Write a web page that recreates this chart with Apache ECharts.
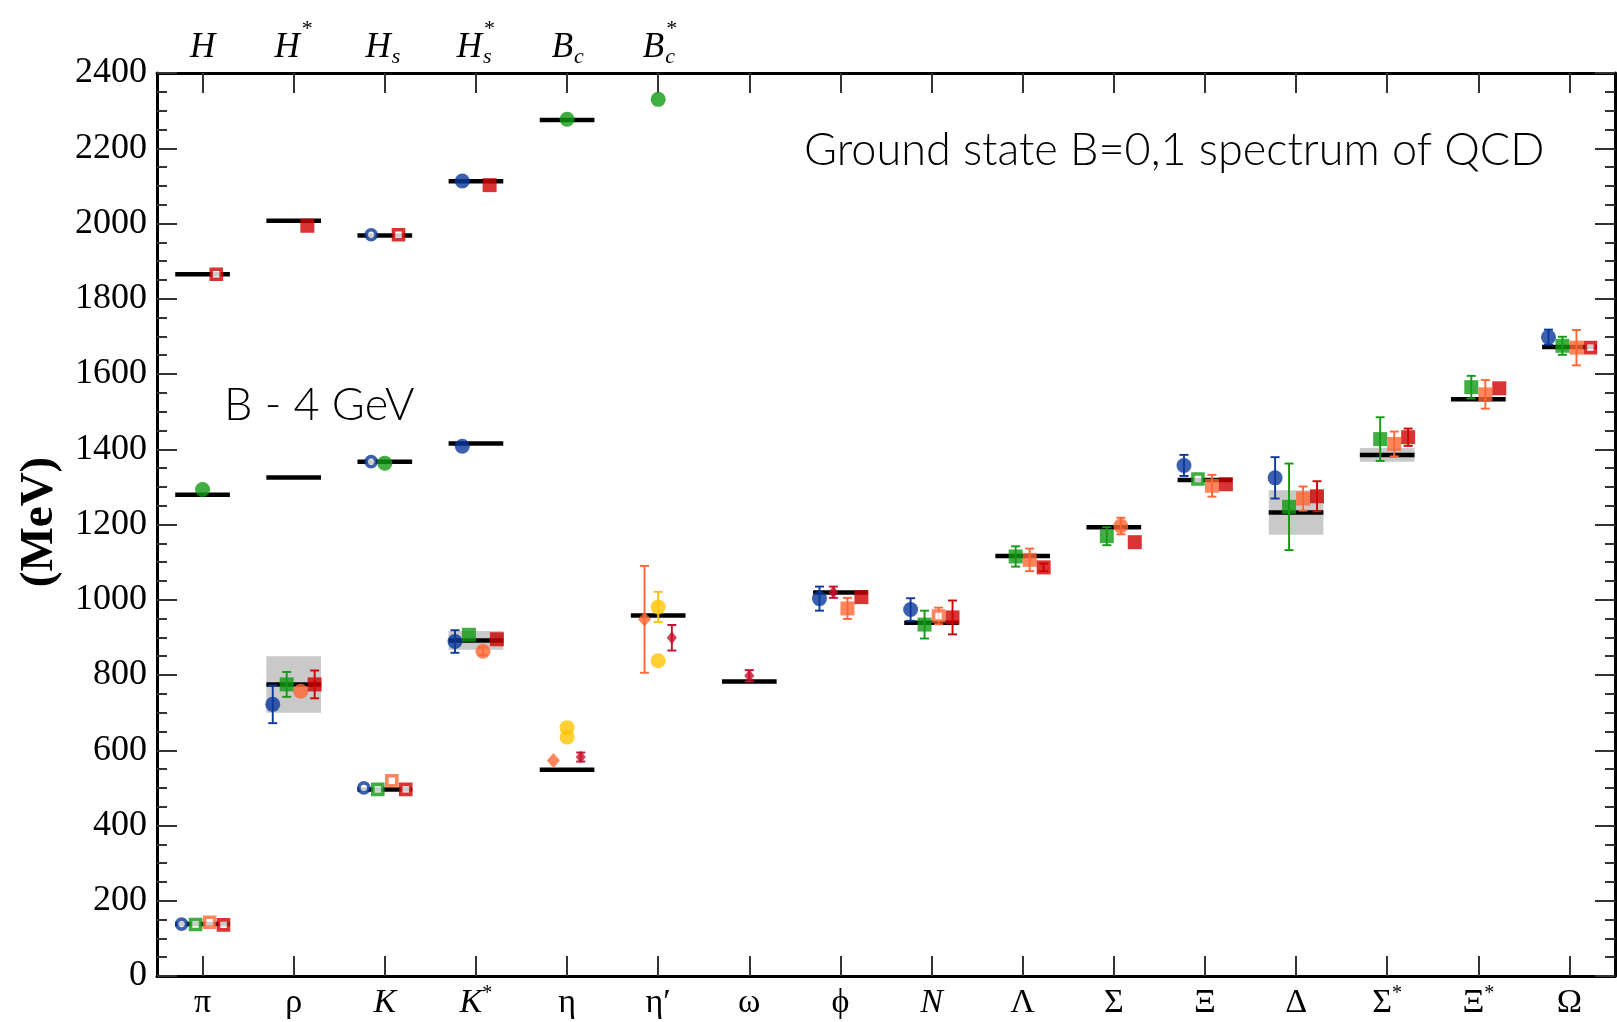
<!DOCTYPE html>
<html>
<head>
<meta charset="utf-8">
<script src="https://cdn.jsdelivr.net/npm/echarts@6/dist/echarts.min.js"></script>
<style>
  html, body { margin: 0; padding: 0; background: #fff; }
  #chart { width: 1617px; height: 1022px; }
</style>
</head>
<body>
<div id="chart"></div>
<script>
// ---- categories -------------------------------------------------------
const hadrons = ['π', 'ρ', 'K', 'K*', 'η', 'η′', 'ω', 'ϕ', 'N', 'Λ', 'Σ', 'Ξ', 'Δ', 'Σ*', 'Ξ*', 'Ω'];
// heavy-light labels on the top axis: [letter, superscript, subscript]
const heavyLabels = [['H', '', ''], ['H', '*', ''], ['H', '', 's'], ['H', '*', 's'], ['B', '', 'c'], ['B', '*', 'c']];
const massTicks = [0, 200, 400, 600, 800, 1000, 1200, 1400, 1600, 1800, 2000, 2200, 2400];

// ---- experimental masses (MeV) -----------------------------------------
const expMass  = [138, 775, 496, 892, 548, 958, 783, 1019, 939, 1116, 1193, 1318, 1232, 1385, 1533, 1672];
const expWidth = [null, 150, null, 50, null, null, null, null, null, null, null, null, 118, 36, 10, null];
const heavyMass = [1865, 2007, 1968, 2112, 2275, null];   // H, H*, Hs, Hs*, Bc - 4 GeV, Bc* - 4 GeV
const bMass     = [1279, 1325, 1367, 1415];               // B, B*, Bs, Bs*  (minus 4 GeV)

// ---- lattice results (MeV) ----------------------------------------------
const blueMass   = [138, 722, 500, 889, null, null, null, 1003, 974, null, null, 1357, 1324, null, null, 1698];
const blueErr    = [0, 50, 0, 30, null, null, null, 32, 30, null, null, 28, 55, null, null, 20];
const greenMass  = [137, 775, 496, 907, null, null, null, null, 934, 1115, 1169, 1321, 1247, 1427, 1565, 1675];
const greenErr   = [0, 33, 0, 0, null, null, null, null, 37, 27, 24, 0, 115, 58, 30, 24];
const orangeMass = [143, 757, 519, 863, null, null, null, 977, 957, 1106, 1196, 1303, 1269, 1414, 1546, 1670];
const orangeErr  = [0, 0, 0, 10, null, null, null, 28, 22, 30, 22, 29, 32, 33, 38, 47];
const redMass    = [136, 775, 496, 895, null, null, null, 1007, 953, 1086, 1153, 1307, 1275, 1432, 1562, 1670];
const redErr     = [0, 37, 0, 0, null, null, null, 0, 45, 10, 0, 0, 40, 23, 0, 0];

const yellowMassA  = [null, null, null, null, 660, 981, null, null, null, null, null, null, null, null, null, null];
const yellowErrA   = [null, null, null, null, 0, 40, null, null, null, null, null, null, null, null, null, null];
const yellowMassB  = [null, null, null, null, 635, 838, null, null, null, null, null, null, null, null, null, null];
const diamondMass  = [null, null, null, null, 573, 948, null, null, null, null, null, null, null, null, null, null];
const diamondErr   = [null, null, null, null, 0, 142, null, null, null, null, null, null, null, null, null, null];
const crimsonMass  = [null, null, null, null, 582, 899, 798, 1020, null, null, null, null, null, null, null, null];
const crimsonErr   = [null, null, null, null, 12, 34, 15, 15, null, null, null, null, null, null, null, null];

const heavyBlue  = [null, null, 1970, 2113, null, null];
const heavyGreen = [null, null, null, null, 2277, 2330];
const heavyRed   = [1865, 1994, 1970, 2102, null, null];
const bBlue  = [null, null, 1367, 1408];
const bGreen = [1293, null, 1363, null];

// ---- styling ------------------------------------------------------------
const C = { blue: '#0a389c', green: '#129a14', orange: '#ff6633', red: '#d00000',
            yellow: '#ffc400', crimson: '#c8102e', box: '#c9c9c9' };
const SERIF = '"Liberation Serif", "DejaVu Serif", serif';
const SANS = '300 45px Lato, "Open Sans", sans-serif';
const hollowIdx = { blue: [0, 2], green: [0, 2, 11], orange: [0, 2, 8], red: [0, 2, 15],
                    heavyBlue: [2], heavyRed: [0, 2], bBlue: [2] };
const orangeRoundIdx = [1, 3, 10];
const crimsonSlot = { 4: 0.15, 5: 0.15, 6: 0, 7: -0.077 };
const HALF = 0.3;   // half width of the experimental bars, in category units

function markerData(values, errs, slot, shapeFn, hollow, color, small) {
  const out = [];
  values.forEach((v, i) => {
    if (v == null) return;
    const isHollow = hollow && hollow.indexOf(i) >= 0;
    const shape = shapeFn(i);
    let size = shape === 'circle' ? 15 : shape === 'diamond' ? [13, 15] : 14;
    if (small) size = [10, 13];
    if (isHollow) size = 10;
    out.push({
      value: [i + slot(i), v, errs ? (errs[i] || 0) : 0],
      symbol: shape,
      symbolSize: size,
      itemStyle: isHollow ? { color: '#fff', borderColor: color, borderWidth: 3.6 }
                          : { color: color, borderWidth: 0 }
    });
  });
  return out;
}

function errorSeries(data, color) {
  return {
    type: 'custom', xAxisIndex: 2, yAxisIndex: 0, z: 3, clip: false,
    data: data.filter(d => d.value[2] > 0).map(d => d.value),
    renderItem: (params, api) => {
      const x = api.value(0), y = api.value(1), e = api.value(2);
      const t = api.coord([x, y + e]), b = api.coord([x, y - e]);
      const cap = 4.5;
      const st = { stroke: color, lineWidth: 1.9 };
      return { type: 'group', children: [
        { type: 'line', shape: { x1: t[0], y1: t[1], x2: b[0], y2: b[1] }, style: st },
        { type: 'line', shape: { x1: t[0] - cap, y1: t[1], x2: t[0] + cap, y2: t[1] }, style: st },
        { type: 'line', shape: { x1: b[0] - cap, y1: b[1], x2: b[0] + cap, y2: b[1] }, style: st }
      ] };
    }
  };
}

function pointSeries(name, values, errs, slot, shapeFn, hollow, color, small) {
  const data = markerData(values, errs, slot, shapeFn, hollow, color, small);
  return [
    errorSeries(data, color),
    { name: name, type: 'scatter', xAxisIndex: 2, yAxisIndex: 0, z: 4, data: data,
      emphasis: { disabled: true } }
  ];
}

function barSeries(values, z) {
  return {
    type: 'custom', xAxisIndex: 2, yAxisIndex: 0, z: z, clip: false,
    data: values.map((v, i) => [i, v]).filter(d => d[1] != null),
    renderItem: (params, api) => {
      const a = api.coord([api.value(0) - HALF, api.value(1)]);
      const b = api.coord([api.value(0) + HALF, api.value(1)]);
      return { type: 'line', shape: { x1: a[0], y1: a[1], x2: b[0], y2: b[1] },
               style: { stroke: '#000', lineWidth: 4.5 } };
    }
  };
}

const boxSeries = {
  type: 'custom', xAxisIndex: 2, yAxisIndex: 0, z: 1, clip: false,
  data: expMass.map((m, i) => [i, m, expWidth[i]]).filter(d => d[2] != null),
  renderItem: (params, api) => {
    const i = api.value(0), m = api.value(1), w = api.value(2);
    const a = api.coord([i - HALF, m + w / 2]);
    const b = api.coord([i + HALF, m - w / 2]);
    return { type: 'rect', shape: { x: a[0], y: a[1], width: b[0] - a[0], height: b[1] - a[1] },
             style: { fill: C.box } };
  }
};

// heavy-light labels drawn above the frame, on the category positions
const topLabelSeries = {
  type: 'custom', xAxisIndex: 2, yAxisIndex: 0, z: 5, clip: false, silent: true,
  data: heavyLabels.map((l, i) => [i, 2400]),
  renderItem: (params, api) => {
    const lab = heavyLabels[params.dataIndex];
    const p = api.coord([api.value(0), api.value(1)]);
    const yMid = p[1] - 25;
    const hasScript = lab[1] || lab[2];
    const kids = [{
      type: 'text', x: hasScript ? p[0] + 6 : p[0], y: yMid,
      style: { text: lab[0], font: 'italic 35px ' + SERIF, fill: '#000',
               align: hasScript ? 'right' : 'center', verticalAlign: 'middle' }
    }];
    if (lab[1]) kids.push({ type: 'text', x: p[0] + 8, y: yMid - 19,
      style: { text: lab[1], font: '22px ' + SERIF, fill: '#000', align: 'left', verticalAlign: 'middle' } });
    if (lab[2]) kids.push({ type: 'text', x: p[0] + 7, y: yMid + 9,
      style: { text: lab[2], font: 'italic 22px ' + SERIF, fill: '#000', align: 'left', verticalAlign: 'middle' } });
    return { type: 'group', children: kids };
  }
};

const light = (k) => ({ blue: -0.23, green: -0.077, orange: 0.077, red: 0.23 })[k];

const series = [
  boxSeries,
  barSeries(expMass, 2),
  barSeries(heavyMass, 2),
  barSeries(bMass, 2),
  ...pointSeries('blue', blueMass, blueErr, () => light('blue'), () => 'circle', hollowIdx.blue, C.blue),
  ...pointSeries('green', greenMass, greenErr, () => light('green'), () => 'rect', hollowIdx.green, C.green),
  ...pointSeries('orange', orangeMass, orangeErr, () => light('orange'),
                 i => orangeRoundIdx.indexOf(i) >= 0 ? 'circle' : 'rect', hollowIdx.orange, C.orange),
  ...pointSeries('red', redMass, redErr, () => light('red'), () => 'rect', hollowIdx.red, C.red),
  ...pointSeries('yellowA', yellowMassA, yellowErrA, () => 0, () => 'circle', null, C.yellow),
  ...pointSeries('yellowB', yellowMassB, null, () => 0, () => 'circle', null, C.yellow),
  ...pointSeries('diamond', diamondMass, diamondErr, () => -0.15, () => 'diamond', null, C.orange),
  ...pointSeries('crimson', crimsonMass, crimsonErr, i => crimsonSlot[i], () => 'diamond', null, C.crimson, true),
  ...pointSeries('heavyBlue', heavyBlue, null, () => -0.15, () => 'circle', hollowIdx.heavyBlue, C.blue),
  ...pointSeries('heavyGreen', heavyGreen, null, () => 0, () => 'circle', null, C.green),
  ...pointSeries('heavyRed', heavyRed, null, () => 0.15, () => 'rect', hollowIdx.heavyRed, C.red),
  ...pointSeries('bBlue', bBlue, null, () => -0.15, () => 'circle', hollowIdx.bBlue, C.blue),
  ...pointSeries('bGreen', bGreen, null, () => 0, () => 'circle', null, C.green),
  topLabelSeries
];

function hadronLabel(name) {
  const star = name.endsWith('*');
  const base = star ? name.slice(0, -1) : name;
  const italic = base === 'K' || base === 'N';
  return '{' + (italic ? 'it' : 'up') + '|' + base + '}' + (star ? '{sup|*}' : '');
}

const frame = { show: true, onZero: false, lineStyle: { color: '#000', width: 3 } };
const tick = { show: true, inside: true, length: 20, lineStyle: { color: '#333', width: 2 } };
const minor = { show: true, splitNumber: 4, length: 10, lineStyle: { color: '#333', width: 2 } };

const option = {
  animation: false,
  backgroundColor: '#fff',
  grid: { left: 157, right: 2, top: 73, bottom: 46, containLabel: false },
  xAxis: [
    { type: 'category', data: hadrons, position: 'bottom', boundaryGap: true,
      axisLine: frame, axisTick: Object.assign({ alignWithLabel: true }, tick),
      splitLine: { show: false },
      axisLabel: { margin: 8, interval: 0, formatter: hadronLabel,
        rich: {
          up: { fontFamily: SERIF, fontSize: 34, color: '#000', lineHeight: 36, verticalAlign: 'bottom' },
          it: { fontFamily: SERIF, fontSize: 34, fontStyle: 'italic', color: '#000', lineHeight: 36, verticalAlign: 'bottom' },
          sup: { fontFamily: SERIF, fontSize: 20, color: '#000', lineHeight: 36, verticalAlign: 'top' }
        } } },
    { type: 'category', data: hadrons, position: 'top', boundaryGap: true,
      axisLine: frame, axisTick: Object.assign({ alignWithLabel: true }, tick),
      axisLabel: { show: false }, splitLine: { show: false } },
    { type: 'value', min: -0.5, max: 15.5, show: false }
  ],
  yAxis: [
    { type: 'value', min: massTicks[0], max: massTicks[massTicks.length - 1], interval: 200,
      position: 'left', axisLine: frame, axisTick: tick, minorTick: minor,
      splitLine: { show: false },
      axisLabel: { margin: 10, fontFamily: SERIF, fontSize: 36, color: '#000',
                   formatter: v => String(v) } },
    { type: 'value', min: massTicks[0], max: massTicks[massTicks.length - 1], interval: 200,
      position: 'right', axisLine: frame, axisTick: tick, minorTick: minor,
      splitLine: { show: false }, axisLabel: { show: false } }
  ],
  graphic: [
    { type: 'text', x: 40, y: 522, rotation: Math.PI / 2,
      style: { text: '(MeV)', font: 'bold 47px ' + SERIF, fill: '#000', align: 'center', verticalAlign: 'middle' } },
    { type: 'text', left: 804, top: 128,
      style: { text: 'Ground state B=0,1 spectrum of QCD', font: SANS, fill: '#000' } },
    { type: 'text', left: 224, top: 383,
      style: { text: 'B - 4 GeV', font: SANS, fill: '#000' } }
  ],
  series: series
};

const chart = echarts.init(document.getElementById('chart'), null, { renderer: 'canvas' });
chart.setOption(option);
</script>
</body>
</html>
